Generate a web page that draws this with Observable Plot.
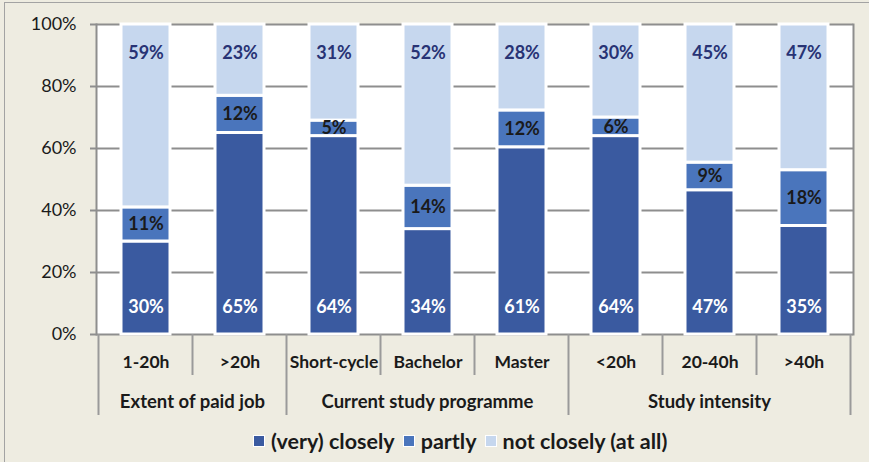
<!DOCTYPE html>
<html><head><meta charset="utf-8">
<script src="https://cdn.jsdelivr.net/npm/d3@7"></script>
<script src="https://cdn.jsdelivr.net/npm/@observablehq/plot@0.6"></script>
<style>
html,body{margin:0;padding:0;background:#fff;}
#wrap{position:relative;width:869px;height:462px;overflow:hidden;background:#EEECE1;}
#border{position:absolute;left:4px;top:2px;width:900px;height:500px;border:1.5px solid #a3a3a3;box-sizing:border-box;}
#chart{position:absolute;left:0;top:0;}
#legend{position:absolute;left:253px;top:428px;display:flex;align-items:center;font-family:Lato,"Open Sans",sans-serif;font-weight:700;font-size:21.5px;color:#1a1a1a;white-space:nowrap;}
#legend .sw{display:inline-block;width:10px;height:10px;border:1px solid #fff;margin-right:6px;}
#legend .it{display:flex;align-items:center;margin-right:8px;}
</style></head>
<body><div id="wrap"><div id="border"></div><div id="chart"></div><div id="legend"></div></div>
<script>
const categories = ["1-20h", ">20h", "Short-cycle", "Bachelor", "Master", "<20h", "20-40h", ">40h"];
const groups = ["Extent of paid job", "Extent of paid job", "Current study programme", "Current study programme", "Current study programme", "Study intensity", "Study intensity", "Study intensity"];
const groupNames = ["Extent of paid job", "Current study programme", "Study intensity"];
const seriesNames = ["(very) closely", "partly", "not closely (at all)"];
const closely = [30, 65, 64, 34, 61, 64, 47, 35];
const partly = [11, 12, 5, 14, 12, 6, 9, 18];
const notClosely = [59, 23, 31, 52, 28, 30, 45, 47];
const colors = ["#3A5AA0", "#4A75BC", "#C6D7EE"];
const yTicks = [0, 0.2, 0.4, 0.6, 0.8, 1];

const series = [closely, partly, notClosely];
const tidy = [];
categories.forEach((c, i) => {
  const tot = closely[i] + partly[i] + notClosely[i];
  series.forEach((arr, s) => tidy.push({cat: c, series: seriesNames[s], value: arr[i], norm: arr[i] / tot, i}));
});
const rows = categories.map((c, i) => {
  const tot = closely[i] + partly[i] + notClosely[i];
  return {cat: c, group: groups[i], c: closely[i], p: partly[i], n: notClosely[i],
          pMid: (closely[i] + partly[i] / 2) / tot};
});

const FONT = "Lato, 'Open Sans', sans-serif";

// custom mark drawing the two-level category axis using Plot's x scale
function groupAxis(index, scales, values, dims) {
  const x = scales.x;
  const bw = x.bandwidth(), step = x.step();
  const gap = (step - bw) / 2;
  const y0 = dims.height - dims.marginBottom;
  const g = d3.create("svg:g");
  categories.forEach((c, i) => {
    const left = x(c) - gap;
    const isGroupStart = i === 0 || groups[i] !== groups[i - 1];
    g.append("line").attr("x1", left).attr("x2", left).attr("y1", y0).attr("y2", y0 + (isGroupStart ? 81 : 41))
      .attr("stroke", "#9a9a9a").attr("stroke-width", 2);
  });
  const last = categories[categories.length - 1];
  const right = x(last) + bw + gap;
  g.append("line").attr("x1", right).attr("x2", right).attr("y1", y0).attr("y2", y0 + 81)
    .attr("stroke", "#9a9a9a").attr("stroke-width", 2);
  groupNames.forEach(gn => {
    const cats = categories.filter((c, i) => groups[i] === gn);
    const a = x(cats[0]) - gap, b = x(cats[cats.length - 1]) + bw + gap;
    g.append("text").attr("x", (a + b) / 2).attr("y", y0 + 74)
      .attr("text-anchor", "middle").attr("font-family", FONT).attr("font-weight", 700)
      .attr("font-size", 18.5).attr("fill", "#1a1a1a").text(gn);
  });
  return g.node();
}

const plot = Plot.plot({
  width: 869,
  height: 420,
  marginLeft: 96,
  marginRight: 16,
  marginTop: 24,
  marginBottom: 86,
  style: {background: "transparent", fontFamily: FONT, color: "#1a1a1a"},
  x: {domain: categories, paddingInner: 0.48, paddingOuter: 0.24, axis: null},
  y: {domain: [0, 1], axis: null},
  marks: [
    Plot.frame({fill: "white", stroke: "none"}),
    Plot.ruleY(yTicks, {stroke: "#8e8e8e", strokeWidth: 2}),
    Plot.barY(tidy, Plot.stackY({x: "cat", y: "norm", fill: "series", order: seriesNames, stroke: "white", strokeWidth: 3})),
    Plot.frame({stroke: "#8e8e8e", strokeWidth: 2, anchor: "left"}),
    Plot.frame({stroke: "#8e8e8e", strokeWidth: 2, anchor: "right"}),
    Plot.axisY(yTicks, {tickFormat: d3.format(".0%"), tickSize: 6, tickPadding: 14, fontSize: 18, stroke: "#8e8e8e", strokeWidth: 2}),
    Plot.text(rows, {x: "cat", y: 0, text: d => d.c + "%", dy: -27, fill: "white", fontWeight: 700, fontSize: 18}),
    Plot.text(rows, {x: "cat", y: "pMid", text: d => d.p + "%", fill: "#1a1a1a", fontWeight: 700, fontSize: 18}),
    Plot.text(rows, {x: "cat", y: 1, text: d => d.n + "%", dy: 29, fill: "#283375", fontWeight: 700, fontSize: 18}),
    Plot.text(rows, {x: "cat", frameAnchor: "bottom", dy: 33, text: "cat", fill: "#1a1a1a", fontWeight: 700, fontSize: 17.5}),
    groupAxis
  ],
  color: {domain: seriesNames, range: colors}
});
document.getElementById("chart").appendChild(plot);

const legend = document.getElementById("legend");
seriesNames.forEach((s, i) => {
  const it = document.createElement("span"); it.className = "it";
  const sw = document.createElement("span"); sw.className = "sw"; sw.style.background = colors[i];
  it.appendChild(sw); it.appendChild(document.createTextNode(s));
  legend.appendChild(it);
});
</script></body></html>
